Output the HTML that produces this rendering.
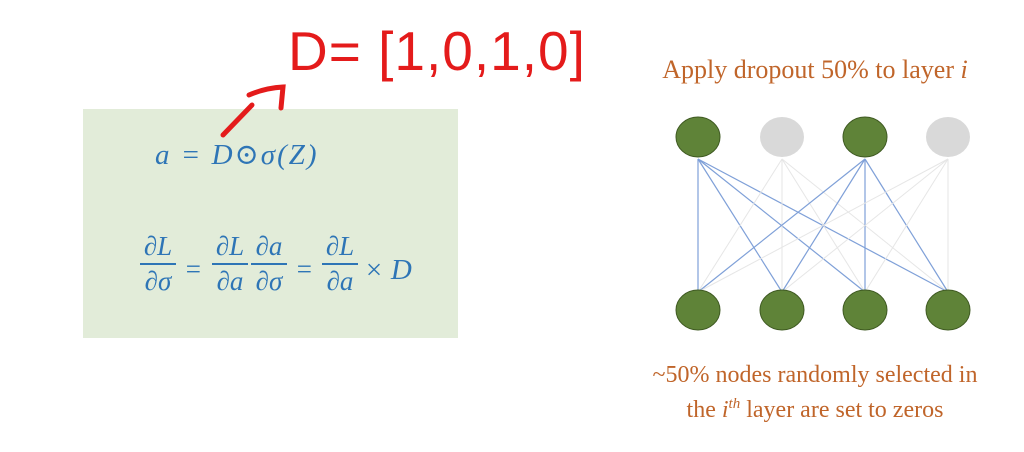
<!DOCTYPE html>
<html><head><meta charset="utf-8"><style>
body{margin:0;width:1024px;height:452px;background:#fff;overflow:hidden;position:relative;font-family:"Liberation Serif",serif}
.abs{position:absolute}
.m{color:#2e75b6;font-family:"Liberation Serif","DejaVu Serif",serif;font-style:italic;font-size:27px;line-height:1}
.frac{position:absolute;text-align:center}
.frac .n{display:block;padding:0 1px 3px}
.frac .bar{display:block;border-top:2px solid #2e75b6}
.frac .d{display:block;padding-top:3px}
.cap{color:#c0652a;text-align:center;width:380px;left:625px;white-space:nowrap}
</style></head><body>
<div class="abs" style="left:83px;top:109px;width:375px;height:229px;background:#e2ecd9"></div>
<div class="abs m" style="left:155px;top:141px;font-size:29px;letter-spacing:2px">a = D⊙σ(Z)</div>
<div class="m">
 <div class="frac m" style="left:140px;top:233px;width:36px"><span class="n">∂L</span><span class="bar"></span><span class="d">∂σ</span></div>
 <div class="abs m" style="left:184px;top:256px">=</div>
 <div class="frac m" style="left:212px;top:233px;width:36px"><span class="n">∂L</span><span class="bar"></span><span class="d">∂a</span></div>
 <div class="frac m" style="left:251px;top:233px;width:36px"><span class="n">∂a</span><span class="bar"></span><span class="d">∂σ</span></div>
 <div class="abs m" style="left:295px;top:256px">=</div>
 <div class="frac m" style="left:322px;top:233px;width:36px"><span class="n">∂L</span><span class="bar"></span><span class="d">∂a</span></div>
 <div class="abs m" style="left:364px;top:256px;font-size:29px">× D</div>
</div>
<svg class="abs" style="left:0;top:0" width="1024" height="452">
 <text x="288" y="70" font-family="Liberation Sans,sans-serif" font-size="55" letter-spacing="1" fill="#e41b1b">D= [1,0,1,0]</text>
 <path d="M223,135 L252,105 M249,95 Q265,88 283,87 L281,108" stroke="#e41b1b" stroke-width="5" fill="none" stroke-linecap="round"/>
 <g id="net"></g>
</svg>
<div class="abs cap" style="top:55px;font-size:26px">Apply dropout 50% to layer <i>i</i></div>
<div class="abs cap" style="top:361px;line-height:29px;font-size:24px">~50% nodes randomly selected in<br>the <i>i<sup style="font-size:15px">th</sup></i> layer are set to zeros</div>
<script>
const topActive=[1,0,1,0];
const xs=[698,782,865,948];
const topY=137, botY=310;
const g=document.getElementById('net');
const ns='http://www.w3.org/2000/svg';
for(let t=0;t<4;t++)for(let b=0;b<4;b++){
 const l=document.createElementNS(ns,'line');
 
 
 l.setAttribute('x1',xs[b]);l.setAttribute('y1',botY-18);l.setAttribute('x2',xs[t]);l.setAttribute('y2',topY+22);
 l.setAttribute('stroke',topActive[t]?'#7fa0d8':'#e6e6e6');l.setAttribute('stroke-width',topActive[t]?1.2:1);
 g.appendChild(l);
}
function node(x,y,on){
 const e=document.createElementNS(ns,'ellipse');
 
 
 e.setAttribute('cx',x);e.setAttribute('cy',y);e.setAttribute('rx',22);e.setAttribute('ry',20);
 e.setAttribute('fill',on?'#5f8338':'#d9d9d9');
 if(on)e.setAttribute('stroke','#3f5a22');
 g.appendChild(e);
}
for(let i=0;i<4;i++){node(xs[i],topY,topActive[i]);node(xs[i],botY,1);}
</script>
</body></html>
